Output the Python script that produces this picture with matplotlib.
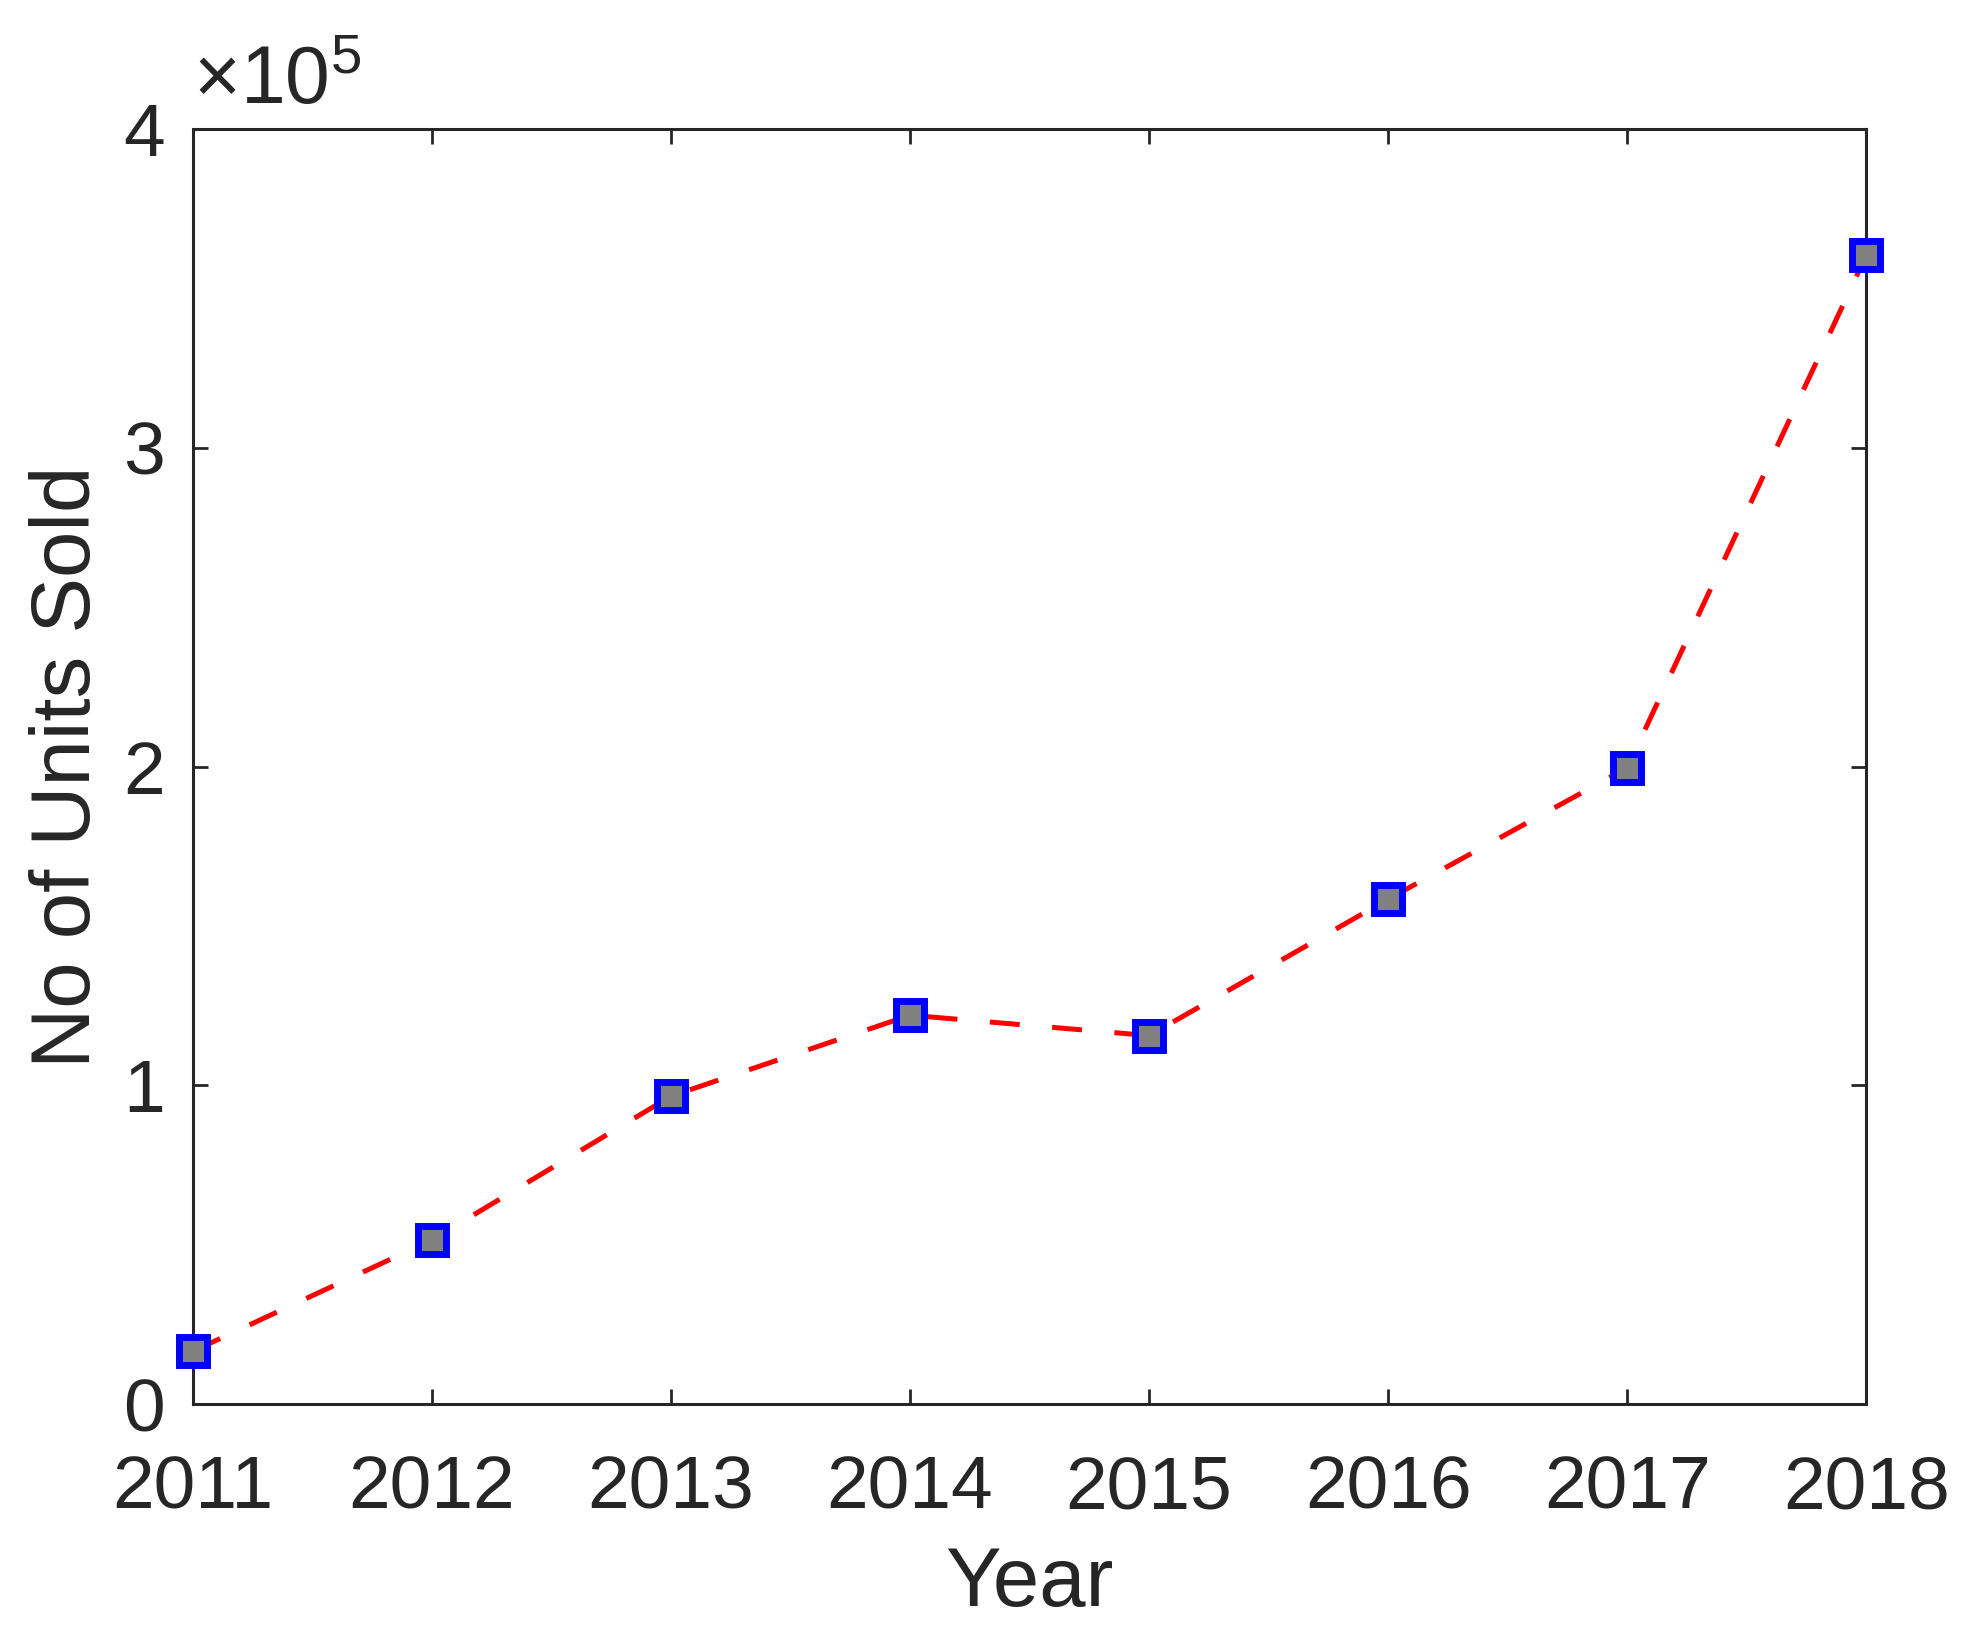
import numpy as np
import matplotlib.pyplot as plt
from matplotlib.ticker import FuncFormatter

# Data
years = [2011, 2012, 2013, 2014, 2015, 2016, 2017, 2018]
units_sold = [16600, 51500, 96600, 122000, 115600, 158400, 199600, 360400]
y_ticks = [0, 100000, 200000, 300000, 400000]

plt.rcParams['font.family'] = ['Liberation Sans', 'DejaVu Sans']
plt.rcParams['mathtext.fontset'] = 'custom'
plt.rcParams['mathtext.rm'] = 'Liberation Sans'
plt.rcParams['mathtext.it'] = 'Liberation Sans'

fig = plt.figure(figsize=(19.79, 16.48), dpi=100)
ax = fig.add_axes([0.0975, 0.148, 0.8455, 0.7737])

ax.plot(years, units_sold, linestyle=(0, (6, 6.5)), color='red', linewidth=3.6,
        marker='s', markersize=20, markerfacecolor='#808080',
        markeredgecolor='blue', markeredgewidth=5, clip_on=False, zorder=3)

ax.set_xlim(2011, 2018)
ax.set_ylim(0, 400000)
ax.set_xticks(years)
ax.set_yticks(y_ticks)
ax.yaxis.set_major_formatter(FuncFormatter(lambda v, p: f"{v / 1e5:g}"))

text_col = '#262626'
ax.tick_params(direction='in', length=11, width=2, top=True, right=True,
               labelsize=54, colors=text_col)
ax.tick_params(axis='x', pad=36)
ax.tick_params(axis='y', pad=20)
for s in ax.spines.values():
    s.set_linewidth(2.2)
    s.set_color(text_col)

ax.set_xlabel('Year', fontsize=60, color=text_col, labelpad=16)
ax.set_ylabel('No of Units Sold', fontsize=60, color=text_col, labelpad=12)

ax.text(0.0, 1.006, r'$\times10^{5}$', transform=ax.transAxes, fontsize=58,
        color=text_col, ha='left', va='bottom')

fig.savefig('out.png', dpi=100)
